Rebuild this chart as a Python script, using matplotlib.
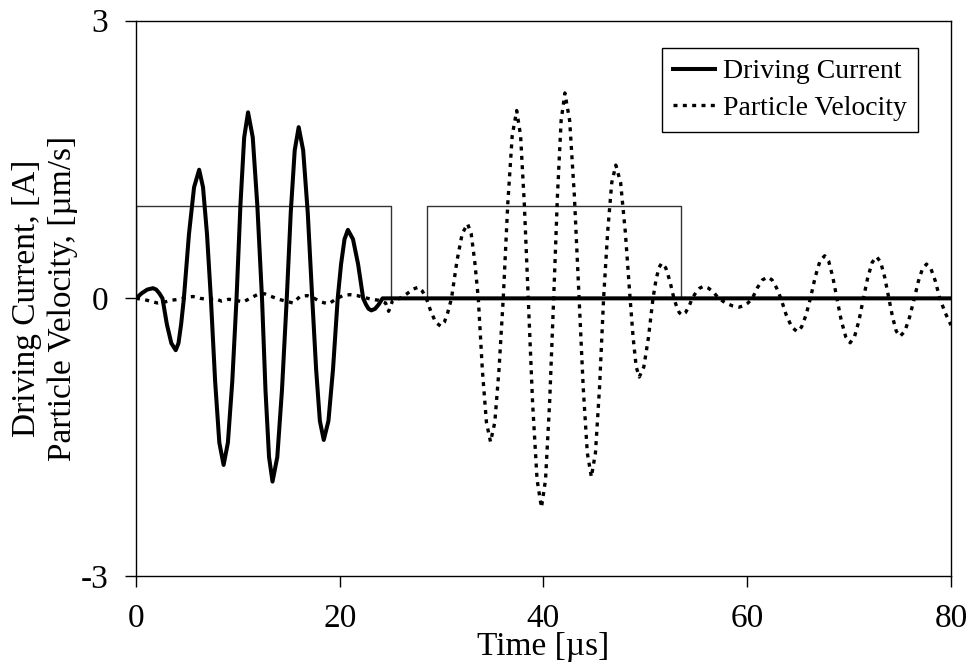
import matplotlib
matplotlib.use("Agg")
from matplotlib import pyplot as plt

# driving current (thick solid)
cur_t = [0, 0.56, 1.11, 1.67, 1.98, 2.29, 2.6,
         3.03, 3.47, 3.9, 4.17, 4.43, 4.7,
         5.2, 5.7, 6.2, 6.58, 6.97, 7.35,
         7.77, 8.18, 8.6, 9.02, 9.45, 9.87,
         10.25, 10.62, 11.0, 11.46, 11.91, 12.37,
         12.71, 13.06, 13.4, 13.87, 14.33, 14.8,
         15.19, 15.58, 15.97, 16.41, 16.86, 17.3,
         17.68, 18.05, 18.43, 18.89, 19.34, 19.8,
         20.13, 20.47, 20.8, 21.3, 21.8, 22.3,
         22.57, 22.83, 23.1, 23.47, 23.83, 24.2, 80]
cur_v = [0, 0.055, 0.095, 0.11, 0.095, 0.055, 0,
         -0.28, -0.485, -0.56, -0.485, -0.28, 0,
         0.695, 1.20, 1.39, 1.20, 0.695, 0,
         -0.90, -1.56, -1.80, -1.56, -0.90, 0,
         1.005, 1.74, 2.01, 1.74, 1.005, 0,
         -0.99, -1.715, -1.98, -1.715, -0.99, 0,
         0.925, 1.60, 1.85, 1.60, 0.925, 0,
         -0.765, -1.325, -1.53, -1.325, -0.765, 0,
         0.37, 0.64, 0.74, 0.64, 0.37, 0,
         -0.065, -0.113, -0.13, -0.113, -0.065, 0, 0]

# particle velocity (dotted)
vel_t = [0, 0.7, 1.4, 2.1, 2.8, 3.5, 4.2, 4.9, 5.6, 6.3, 7.0, 7.7, 8.4, 9.1, 9.8,
         10.5, 11.2, 11.9, 12.6, 13.3, 14.0, 14.7, 15.4, 16.1, 16.8, 17.5, 18.2,
         18.9, 19.6, 20.3, 21.0, 21.7, 22.4, 23.1, 23.8, 24.5, 24.8, 25.2, 25.9,
         26.6, 27.2, 27.7, 28.1, 28.5,
         28.97, 29.43, 29.9, 30.26, 30.61, 30.97,
         31.5, 32.02, 32.55, 32.9, 33.25, 33.6,
         34.0, 34.4, 34.8, 35.22, 35.63, 36.05,
         36.49, 36.93, 37.37, 37.75, 38.12, 38.5,
         38.93, 39.37, 39.8, 40.2, 40.6, 41.0,
         41.37, 41.73, 42.1, 42.57, 43.03, 43.5,
         43.9, 44.3, 44.7, 45.1, 45.5, 45.9,
         46.3, 46.7, 47.1, 47.57, 48.03, 48.5,
         48.8, 49.1, 49.4, 49.85, 50.3, 50.75,
         51.03, 51.32, 51.6, 52.0, 52.4, 52.8,
         53.07, 53.33, 53.6, 53.93, 54.27, 54.6,
         54.97, 55.33, 55.7, 56.2, 56.7, 57.2,
         57.87, 58.53, 59.2, 59.63, 60.07, 60.5,
         61.0, 61.5, 62.0, 62.43, 62.87, 63.3,
         63.83, 64.37, 64.9, 65.33, 65.77, 66.2,
         66.67, 67.13, 67.6, 68.0, 68.4, 68.8,
         69.23, 69.67, 70.1, 70.53, 70.97, 71.4,
         71.83, 72.27, 72.7, 73.1, 73.5, 73.9,
         74.27, 74.63, 75.0, 75.47, 75.93, 76.4,
         76.8, 77.2, 77.6, 78.03, 78.47, 78.9,
         79.45, 80]
vel_v = [0, -0.01, -0.03, -0.05, -0.04, -0.02, -0.01, 0.01, 0.02, 0.0, -0.01, 0.0, -0.03, -0.01, -0.02,
         -0.04, 0.0, 0.04, 0.05, 0.02, -0.01, -0.03, -0.05, 0.02, 0.03, 0.0, -0.04,
         -0.06, -0.01, 0.03, 0.04, 0.03, 0.01, -0.01, -0.02, -0.05, -0.14, -0.02, 0.0,
         0.05, 0.10, 0.12, 0.08, 0.0,
         -0.15, -0.26, -0.30, -0.26, -0.15, 0,
         0.40, 0.70, 0.805, 0.70, 0.40, 0,
         -0.775, -1.34, -1.55, -1.34, -0.775, 0,
         1.015, 1.76, 2.03, 1.76, 1.015, 0,
         -1.13, -1.96, -2.26, -1.96, -1.13, 0,
         1.11, 1.92, 2.22, 1.92, 1.11, 0,
         -0.965, -1.67, -1.93, -1.67, -0.965, 0,
         0.72, 1.25, 1.44, 1.25, 0.72, 0,
         -0.425, -0.74, -0.85, -0.74, -0.425, 0,
         0.19, 0.33, 0.38, 0.33, 0.19, 0,
         -0.09, -0.155, -0.18, -0.155, -0.09, 0,
         0.065, 0.11, 0.13, 0.11, 0.065, 0,
         -0.05, -0.08, -0.095, -0.08, -0.05, 0,
         0.115, 0.20, 0.23, 0.20, 0.115, 0,
         -0.18, -0.31, -0.36, -0.31, -0.18, 0,
         0.23, 0.40, 0.46, 0.40, 0.23, 0,
         -0.24, -0.415, -0.48, -0.415, -0.24, 0,
         0.225, 0.39, 0.45, 0.39, 0.225, 0,
         -0.205, -0.355, -0.41, -0.355, -0.205, 0,
         0.185, 0.32, 0.37, 0.32, 0.185, 0,
         -0.16, -0.29]

# gate windows (thin rectangles)
gate_t = [0, 0, 25, 25, 28.6, 28.6, 53.5, 53.5]
gate_v = [0, 1, 1, 0, 0, 1, 1, 0]

plt.rcParams['font.family'] = ['Liberation Serif', 'DejaVu Serif']
plt.rcParams['font.size'] = 24
plt.rcParams['axes.unicode_minus'] = False

fig = plt.figure(figsize=(9.7, 6.71), dpi=100)
ax = fig.add_axes([0.1402, 0.1416, 0.8402, 0.8275])

ax.plot(gate_t, gate_v, color='#333333', lw=1.0)
ax.plot(cur_t, cur_v, color='black', lw=2.9, label='Driving Current')
ax.plot(vel_t, vel_v, color='black', lw=2.4, linestyle=(0, (1.2, 1.6)),
        label='Particle Velocity')

ax.set_xlim(0, 80)
ax.set_ylim(-3, 3)
ax.set_xticks([0, 20, 40, 60, 80])
ax.set_yticks([-3, 0, 3])
ax.tick_params(direction='out', length=8, width=1)
ax.tick_params(axis='x', pad=12)
ax.tick_params(axis='y', pad=12)
for s in ax.spines.values():
    s.set_linewidth(1.0)

ax.set_xlabel('Time [µs]', labelpad=-2)
ax.set_ylabel('Driving Current, [A]\nParticle Velocity, [µm/s]', labelpad=2,
              linespacing=1.2)

leg = ax.legend(loc='upper right', bbox_to_anchor=(0.9595, 0.951), fancybox=False,
                edgecolor='black', framealpha=1, handlelength=1.5, handletextpad=0.3,
                borderpad=0.4, labelspacing=0.4, borderaxespad=0, fontsize=20)
leg.get_frame().set_linewidth(1.0)

fig.savefig('out.png', dpi=100)
